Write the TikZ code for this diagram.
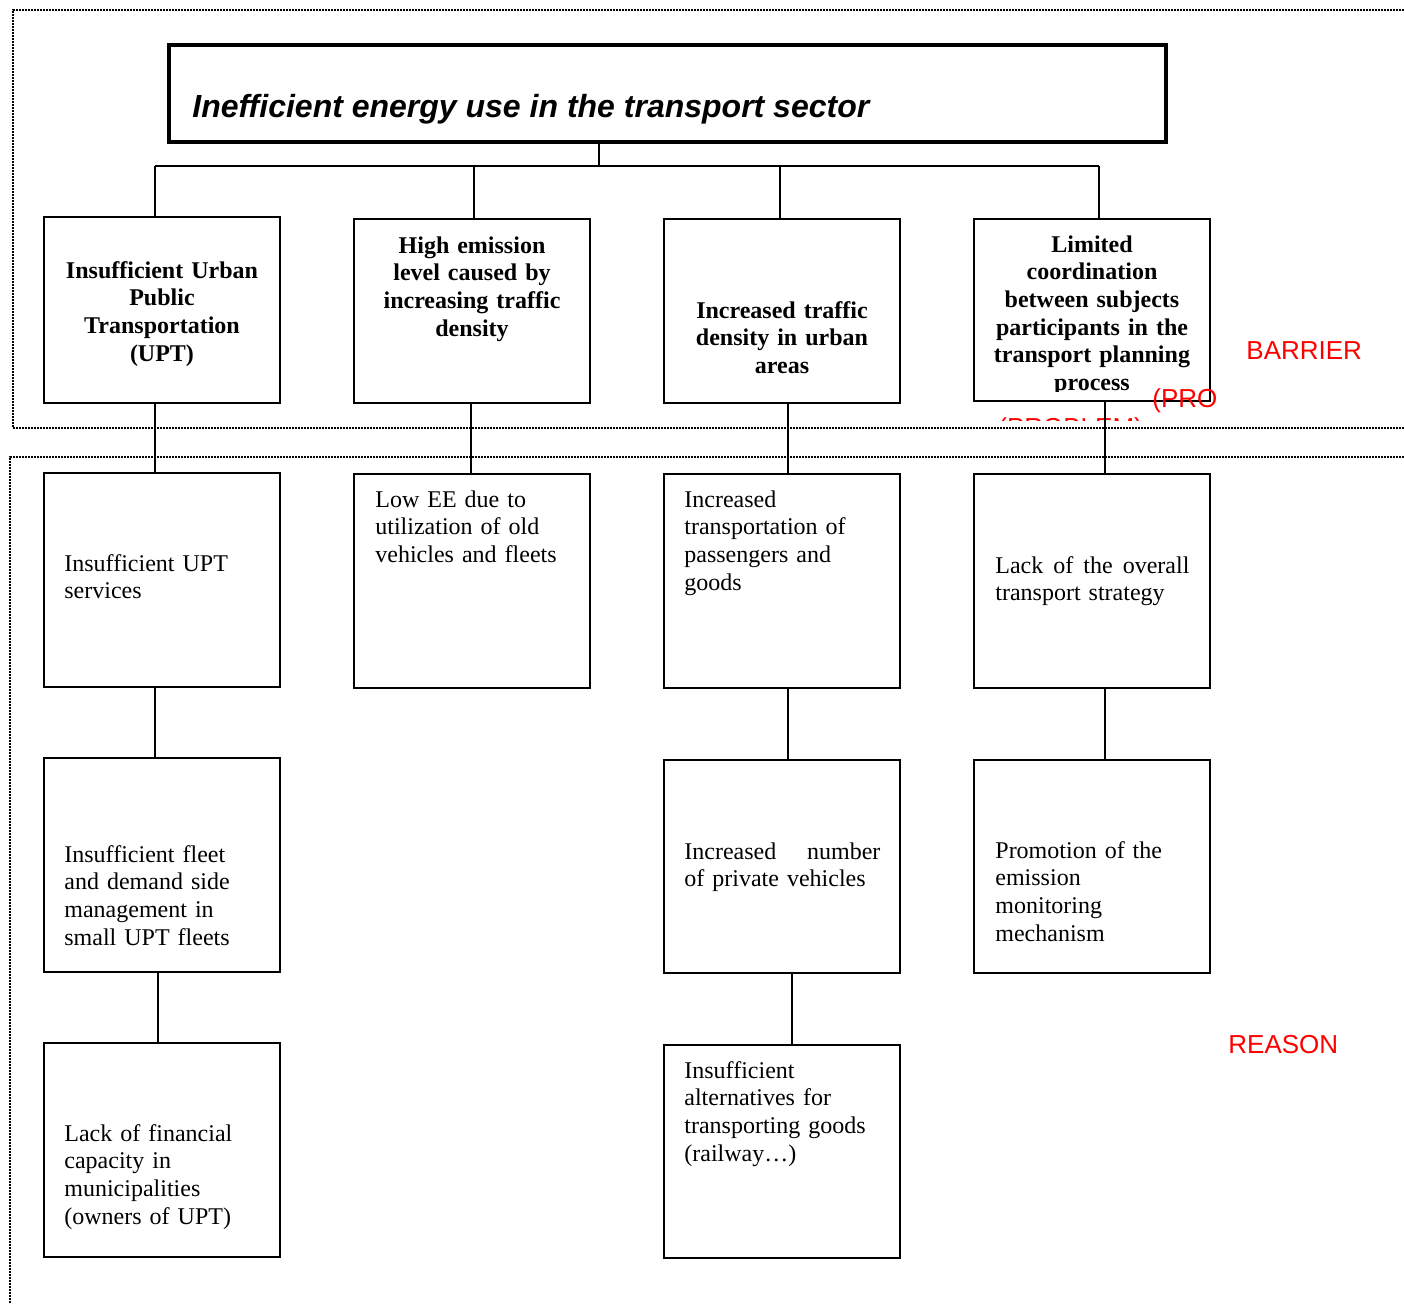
\documentclass[tikz,border=0pt]{standalone}
\usepackage{fontspec}
\setmainfont{Liberation Serif}
\newfontfamily\arialfont{Liberation Sans}
\begin{document}
\begin{tikzpicture}[x=0.5pt,y=-0.5pt,
  box/.style={draw, line width=1pt, minimum width=118pt, inner sep=0pt},
  titlebox/.style={draw, line width=1.6pt, minimum width=498.5pt, minimum height=48.5pt, inner sep=0pt},
  titletext/.style={font=\arialfont\bfseries\itshape\fontsize{16}{19}\selectfont, inner sep=0pt, anchor=base west},
  headtext/.style={font=\fontsize{12}{13.85}\selectfont\bfseries, text width=112pt, align=center, inner sep=0pt, anchor=base},
  bodytext/.style={font=\fontsize{12}{13.9}\selectfont, text width=98pt, align=left, inner sep=0pt, anchor=base west},
  redlabel/.style={font=\arialfont\fontsize{13}{14.5}\selectfont, text=red, inner sep=0pt, anchor=base west},
  conn/.style={line width=0.9pt},
  frame/.style={line width=1.2pt, dash pattern=on 1pt off 0.5pt}]
\useasboundingbox (0,0) rectangle (1404,1303);

% dotted group frames
\draw[frame] (1404,10) -- (13,10) -- (13,428) -- (1404,428);
\draw[frame] (1404,457) -- (10,457) -- (10,1303);

% main problem
\node[titlebox] (title) at (667.5,93.5) {};
\node[titletext] (titletxt) at (192,117) {Inefficient energy use in the transport sector};

% barriers
\node[box, minimum height=93pt] (b1) at (162,310) {};
\node[box, minimum height=92pt] (b2) at (472,311) {};
\node[box, minimum height=92pt] (b3) at (782,311) {};
\node[box, minimum height=91pt] (b4) at (1092,310) {};

\node[headtext] (b1t) at (162,278) {Insufficient Urban\\Public\\Transportation\\(UPT)};
\node[headtext] (b2t) at (472,253) {High emission\\level caused by\\increasing traffic\\density};
\node[headtext] (b3t) at (782,318) {Increased traffic\\density in urban\\areas};
\begin{scope}
  \clip (b4.north west) rectangle (1210,391);
  \node[headtext] (b4t) at (1092,252) {Limited\\coordination\\between subjects\\participants in the\\transport planning\\process};
\end{scope}

% reasons, first level
\node[box, minimum height=107pt] (c1) at (162,580) {};
\node[box, minimum height=107pt] (c2) at (472,581) {};
\node[box, minimum height=107pt] (c3) at (782,581) {};
\node[box, minimum height=107pt] (c4) at (1092,581) {};

\node[bodytext] (c1t) at (64,571) {Insufficient UPT\\services};
\node[bodytext] (c2t) at (375,507) {Low EE due to\\utilization of old\\vehicles and fleets};
\node[bodytext] (c3t) at (684,507) {Increased\\transportation of\\passengers and\\goods};
\node[bodytext, text width=97pt] (c4t) at (995,573) {Lack\hfill of\hfill the\hfill overall\\transport strategy};

% reasons, second level
\node[box, minimum height=107pt] (d1) at (162,865) {};
\node[box, minimum height=106.5pt] (d3) at (782,866.5) {};
\node[box, minimum height=106.5pt] (d4) at (1092,866.5) {};

\node[bodytext] (d1t) at (64,862) {Insufficient fleet\\and demand side\\management in\\small UPT fleets};
\node[bodytext] (d3t) at (684,859) {Increased\hfill number\\of private vehicles};
\node[bodytext] (d4t) at (995,858) {Promotion of the\\emission\\monitoring\\mechanism};

% reasons, third level
\node[box, minimum height=107pt] (e1) at (162,1150) {};
\node[box, minimum height=106.5pt] (e3) at (782,1151.5) {};

\node[bodytext] (e1t) at (64,1141) {Lack of financial\\capacity in\\municipalities\\(owners of UPT)};
\node[bodytext] (e3t) at (684,1078) {Insufficient\\alternatives for\\transporting goods\\(railway…)};

% side labels
\node[redlabel] (barrier) at (1246,359) {BARRIER};
\node[redlabel] (reason) at (1228,1053) {REASON};
\begin{scope}
  \clip (990,380) rectangle (1216,420.5);
  \node[redlabel] (probA) at (1152,407.5) {(PROBLEM)};
  \node[redlabel] (probB) at (998,436) {(PROBLEM)};
\end{scope}

% tree connectors
\coordinate (j0) at (599,166);
\coordinate (j1) at (155,166);
\coordinate (j2) at (474,166);
\coordinate (j3) at (780,166);
\coordinate (j4) at (1099,166);
\draw[conn] (title.south -| j0) -- (j0);
\draw[conn] (j1) -- (j4);
\draw[conn] (j1) -- (b1.north -| j1);
\draw[conn] (j2) -- (b2.north -| j2);
\draw[conn] (j3) -- (b3.north -| j3);
\draw[conn] (j4) -- (b4.north -| j4);

\coordinate (k1) at (155,0);
\coordinate (k2) at (471,0);
\coordinate (k3) at (788,0);
\coordinate (k4) at (1105,0);
\coordinate (k5) at (158,0);
\coordinate (k6) at (792,0);
\draw[conn] (b1.south -| k1) -- (c1.north -| k1);
\draw[conn] (b2.south -| k2) -- (c2.north -| k2);
\draw[conn] (b3.south -| k3) -- (c3.north -| k3);
\draw[conn] (b4.south -| k4) -- (c4.north -| k4);
\draw[conn] (c1.south -| k1) -- (d1.north -| k1);
\draw[conn] (c3.south -| k3) -- (d3.north -| k3);
\draw[conn] (c4.south -| k4) -- (d4.north -| k4);
\draw[conn] (d1.south -| k5) -- (e1.north -| k5);
\draw[conn] (d3.south -| k6) -- (e3.north -| k6);
\end{tikzpicture}
\end{document}
